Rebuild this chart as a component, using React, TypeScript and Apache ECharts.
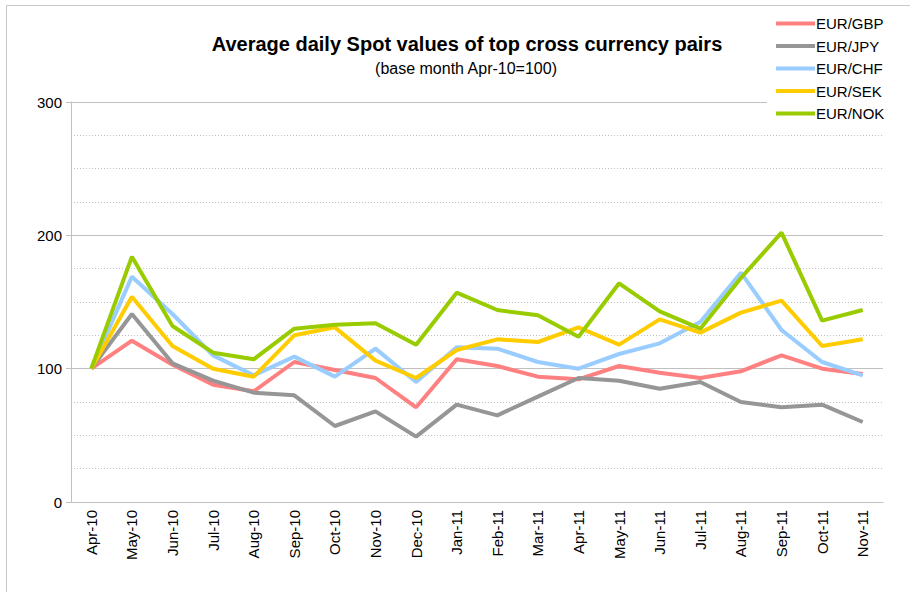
import React, { useEffect, useRef } from "react";
import * as echarts from "echarts";

const categories = [
  "Apr-10", "May-10", "Jun-10", "Jul-10", "Aug-10", "Sep-10", "Oct-10", "Nov-10", "Dec-10",
  "Jan-11", "Feb-11", "Mar-11", "Apr-11", "May-11", "Jun-11", "Jul-11", "Aug-11", "Sep-11", "Oct-11", "Nov-11",
];

const eurGbp = [100, 121, 103, 88, 83, 105, 99, 93, 71, 107, 102, 94, 92, 102, 97, 93, 98, 110, 100, 96];
const eurJpy = [100, 141, 104, 91, 82, 80, 57, 68, 49, 73, 65, 79, 93, 91, 85, 90, 75, 71, 73, 60];
const eurChf = [100, 169, 141, 110, 95, 109, 94, 115, 90, 116, 115, 105, 100, 111, 119, 135, 172, 129, 105, 95];
const eurSek = [100, 154, 117, 100, 94, 125, 131, 106, 93, 114, 122, 120, 131, 118, 137, 127, 142, 151, 117, 122];
const eurNok = [100, 184, 132, 112, 107, 130, 133, 134, 118, 157, 144, 140, 124, 164, 143, 130, 168, 202, 136, 144];

const seriesNames = ["EUR/GBP", "EUR/JPY", "EUR/CHF", "EUR/SEK", "EUR/NOK"];
const seriesColors = ["#FF8080", "#969696", "#99CCFF", "#FFCC00", "#99CC00"];
const seriesData = [eurGbp, eurJpy, eurChf, eurSek, eurNok];

const yTicks = [0, 100, 200, 300];

const FONT = "Liberation Sans, Arial, sans-serif";

export default function App() {
  const ref = useRef<HTMLDivElement>(null);
  useEffect(() => {
    if (!ref.current) return;
    const chart = echarts.init(ref.current, null, { renderer: "svg" });
    chart.setOption({
      animation: false,
      backgroundColor: "#ffffff",
      textStyle: { fontFamily: FONT },
      graphic: [
        {
          type: "rect",
          z: -10,
          shape: { x: 6.5, y: 5.5, width: 1000, height: 1000 },
          style: { fill: "none", stroke: "#c8c8c8", lineWidth: 1 },
          silent: true,
        },
        {
          type: "text",
          x: 467,
          y: 44,
          style: {
            text: "Average daily Spot values of top cross currency pairs",
            font: "bold 20px " + FONT,
            fill: "#000",
            align: "center",
            verticalAlign: "middle",
          },
        },
        {
          type: "text",
          x: 466,
          y: 68,
          style: {
            text: "(base month Apr-10=100)",
            font: "16px " + FONT,
            fill: "#000",
            align: "center",
            verticalAlign: "middle",
          },
        },
      ],
      legend: {
        orient: "vertical",
        left: 767,
        top: 10,
        padding: [6, 10, 6, 9],
        backgroundColor: "#ffffff",
        z: 10,
        itemWidth: 39,
        itemHeight: 4,
        itemGap: 7.5,
        icon: "rect",
        data: seriesNames,
        textStyle: { fontSize: 15, color: "#000", fontFamily: FONT, padding: [0, 0, 0, -4] },
      },
      grid: { left: 71, right: 27, top: 102, bottom: 90, containLabel: false },
      xAxis: {
        type: "category",
        data: categories,
        boundaryGap: true,
        axisLine: { show: true, lineStyle: { color: "#c0c0c0", width: 1 } },
        axisTick: { show: false },
        axisLabel: {
          rotate: 90,
          interval: 0,
          color: "#000",
          fontSize: 15,
          fontFamily: FONT,
          margin: 8,
        },
        splitLine: { show: false },
      },
      yAxis: {
        type: "value",
        min: yTicks[0],
        max: yTicks[yTicks.length - 1],
        interval: 100,
        axisLine: { show: true, lineStyle: { color: "#c0c0c0", width: 1 } },
        axisTick: { show: true, length: 5, lineStyle: { color: "#c0c0c0" } },
        axisLabel: { color: "#000", fontSize: 15, fontFamily: FONT, margin: 9 },
        splitLine: { show: true, lineStyle: { color: "#c0c0c0", width: 1 } },
        minorTick: { show: false, splitNumber: 4 },
        minorSplitLine: { show: true, lineStyle: { color: "#c0c0c0", type: [1, 2], width: 1 } },
      },
      series: seriesNames.map((name, i) => ({
        name,
        type: "line",
        data: seriesData[i],
        symbol: "none",
        color: seriesColors[i],
        lineStyle: { color: seriesColors[i], width: 4 },
        z: 2 + i,
      })),
    });
    return () => chart.dispose();
  }, []);
  return (
    <div
      ref={ref}
      style={{ position: "fixed", left: 0, top: 0, width: 910, height: 592 }}
    />
  );
}
